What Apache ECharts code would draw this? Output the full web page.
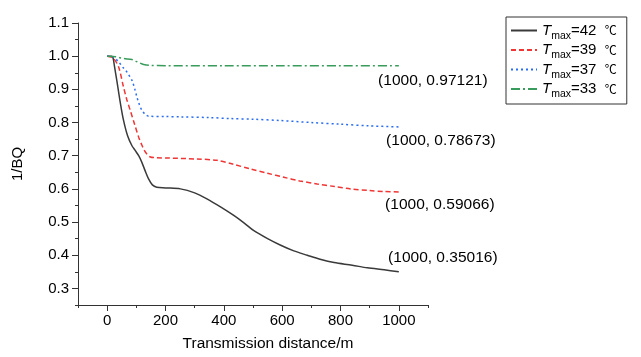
<!DOCTYPE html>
<html><head><meta charset="utf-8">
<script src="https://cdn.jsdelivr.net/npm/echarts@6/dist/echarts.min.js"></script>
<style>html,body{margin:0;padding:0;background:#fff}#c{width:641px;height:357px}</style>
</head><body><div id="c"></div>
<script>
var xTicks = [0, 200, 400, 600, 800, 1000];
var yTicks = [0.3, 0.4, 0.5, 0.6, 0.7, 0.8, 0.9, 1.0, 1.1];
var seriesNames = ['42', '39', '37', '33'];
var annotations = ['(1000, 0.35016)', '(1000, 0.59066)', '(1000, 0.78673)', '(1000, 0.97121)'];
var endValues = [0.35016, 0.59066, 0.78673, 0.97121];

var x42 = [0, 15, 20, 25, 33, 45, 56, 70, 85, 96, 108, 119, 130, 142, 155, 170, 200, 251, 300, 342, 390, 434, 470, 503, 550, 595, 640, 686, 730, 778, 840, 892, 950, 1000];
var y42 = [1.0, 1.0, 0.995, 0.97, 0.927, 0.86, 0.807, 0.76, 0.73, 0.716, 0.70, 0.68, 0.655, 0.63, 0.612, 0.605, 0.603, 0.60, 0.588, 0.57, 0.545, 0.52, 0.497, 0.474, 0.45, 0.43, 0.413, 0.40, 0.388, 0.378, 0.37, 0.362, 0.356, 0.35016];

var x39 = [0, 20, 39, 56, 67, 79, 94, 108, 120, 131, 148, 170, 205, 308, 377, 430, 491, 550, 606, 660, 720, 780, 835, 900, 950, 1000];
var y39 = [1.0, 0.995, 0.968, 0.907, 0.87, 0.837, 0.795, 0.756, 0.73, 0.711, 0.696, 0.694, 0.693, 0.69, 0.686, 0.675, 0.66, 0.647, 0.635, 0.624, 0.615, 0.607, 0.60, 0.595, 0.592, 0.59066];

var x37 = [0, 20, 39, 55, 67, 85, 95, 102, 110, 119, 130, 142, 200, 251, 350, 423, 500, 595, 700, 800, 900, 1000];
var y37 = [1.0, 0.998, 0.983, 0.965, 0.953, 0.927, 0.9, 0.877, 0.855, 0.837, 0.825, 0.819, 0.818, 0.817, 0.815, 0.812, 0.81, 0.806, 0.80, 0.795, 0.79, 0.78673];

var x33 = [0, 30, 56, 85, 100, 108, 125, 148, 200, 400, 600, 800, 1000];
var y33 = [1.0, 0.998, 0.993, 0.99, 0.984, 0.981, 0.975, 0.972, 0.9715, 0.9714, 0.9713, 0.9713, 0.97121];

var xsAll = [x42, x39, x37, x33];
var ysAll = [y42, y39, y37, y33];
var colors = ['#3a3a3a', '#f03535', '#2a6cf0', '#3a9c5c'];
var legendColors = ['#111111', '#ff2020', '#1010ff', '#4a9a3a'];
var lineTypes = ['solid', [5, 3], [2, 3], [9, 3, 2, 3]];
var labelOffsets = [[44, -14], [41, 13], [42, 14], [34, 15]];
var font = "'Liberation Sans', Arial, sans-serif";

var series = xsAll.map(function (xs, si) {
  var ys = ysAll[si];
  return {
    name: seriesNames[si], type: 'line',
    data: xs.map(function (x, i) { return [x, ys[i]]; }),
    symbol: 'none', smooth: 0.3,
    xAxisIndex: 0, yAxisIndex: 0,
    lineStyle: { color: colors[si], width: 1.5, type: lineTypes[si] },
    itemStyle: { color: legendColors[si] },
    z: 3
  };
});

var annoSeries = {
  type: 'scatter', xAxisIndex: 0, yAxisIndex: 0, symbolSize: 1, silent: true,
  itemStyle: { color: 'rgba(0,0,0,0)' },
  labelLayout: { hideOverlap: false },
  data: endValues.map(function (v, i) {
    return {
      value: [1000, v],
      label: {
        show: true, formatter: annotations[i],
        position: [labelOffsets[i][0] + 0.5, labelOffsets[i][1] + 0.5],
        align: 'center', verticalAlign: 'middle',
        color: '#000', opacity: 1, fontSize: 15.5, fontFamily: font,
        textBorderWidth: 0
      }
    };
  }),
  z: 4
};

var chart = echarts.init(document.getElementById('c'));
chart.setOption({
  animation: false,
  backgroundColor: '#fff',
  grid: { left: 78, top: 23, width: 350, height: 282, containLabel: false },
  legend: {
    orient: 'vertical', left: 506, top: 17, width: 121,
    padding: [6, 10, 4, 4], itemGap: 1, itemWidth: 26, itemHeight: 14,
    borderColor: '#333', borderWidth: 1,
    itemStyle: { opacity: 0, borderWidth: 0 },
    data: seriesNames.map(function (n) { return { name: n }; }),
    formatter: function (n) { return '{i|T}{s|max}{n|=' + n + '  }{c|℃}'; },
    textStyle: {
      fontFamily: font, fontSize: 15, color: '#000',
      rich: {
        i: { fontStyle: 'italic', fontSize: 15, fontFamily: font, lineHeight: 22, verticalAlign: 'middle' },
        s: { fontSize: 10.5, fontFamily: font, lineHeight: 22, verticalAlign: 'bottom' },
        n: { fontSize: 15, fontFamily: font, lineHeight: 22, verticalAlign: 'middle' },
        c: { fontSize: 12, fontFamily: 'Noto Sans CJK SC', lineHeight: 22, verticalAlign: 'middle' }
      }
    }
  },
  xAxis: [{
    type: 'value', min: -100, max: 1100, interval: 100, position: 'bottom',
    name: 'Transmission distance/m', nameLocation: 'middle', nameGap: 31,
    nameTextStyle: { fontFamily: font, fontSize: 15.5, color: '#000', padding: [0, 0, 0, 30] },
    axisLine: { show: true, onZero: false, lineStyle: { color: '#333', width: 1 } },
    axisTick: { show: true, length: 3, lineStyle: { color: '#333' } },
    axisLabel: {
      show: true, customValues: xTicks, fontFamily: font, fontSize: 15, color: '#000', margin: 8,
      formatter: function (v) { return String(v); }
    },
    splitLine: { show: false }
  }, {
    type: 'value', min: -100, max: 1100, interval: 100, position: 'bottom',
    axisLine: { show: false, onZero: false },
    axisTick: { show: true, length: 6, customValues: xTicks, lineStyle: { color: '#333' } },
    axisLabel: { show: false }, splitLine: { show: false }
  }],
  yAxis: [{
    type: 'value', min: 0.25, max: 1.1, interval: 0.05, position: 'left',
    name: '1/BQ', nameLocation: 'middle', nameGap: 53,
    nameTextStyle: { fontFamily: font, fontSize: 15, color: '#000' },
    axisLine: { show: true, onZero: false, lineStyle: { color: '#333', width: 1 } },
    axisTick: { show: true, length: 3, lineStyle: { color: '#333' } },
    axisLabel: {
      show: true, customValues: yTicks, fontFamily: font, fontSize: 15, color: '#000', margin: 9,
      formatter: function (v) { return v.toFixed(1); }
    },
    splitLine: { show: false }
  }, {
    type: 'value', min: 0.25, max: 1.1, interval: 0.05, position: 'left',
    axisLine: { show: false, onZero: false },
    axisTick: { show: true, length: 6, customValues: yTicks, lineStyle: { color: '#333' } },
    axisLabel: { show: false }, splitLine: { show: false }
  }],
  series: series.concat([annoSeries,
    { type: 'line', xAxisIndex: 1, yAxisIndex: 1, data: [], silent: true }
  ])
});
</script></body></html>
